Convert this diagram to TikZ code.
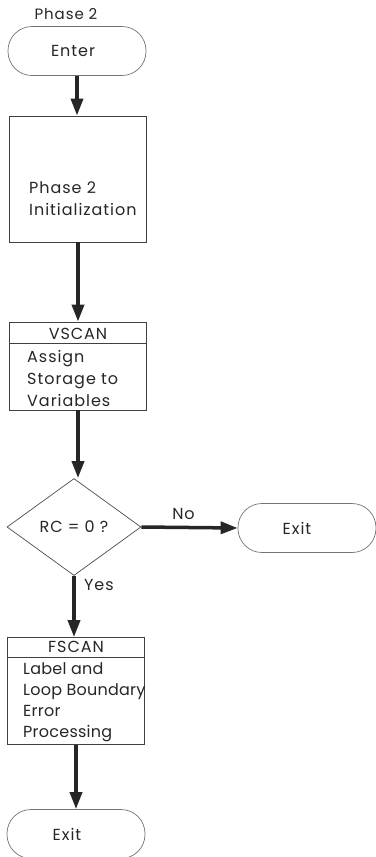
\documentclass[tikz,border=0pt]{standalone}
\usepackage{fontspec}
\setmainfont{Poppins}[LetterSpace=6]
\usetikzlibrary{arrows.meta,shapes.geometric}
\begin{document}
\begin{tikzpicture}[x=1pt,y=-1pt,
  every node/.style={font=\fontsize{16}{22}\selectfont, text=black!85},
  term/.style={draw=black!55, line width=0.7pt, rounded corners=24pt, minimum width=138pt, minimum height=49pt, inner sep=0pt},
  box/.style={draw=black!75, line width=0.8pt, minimum width=137pt, inner sep=0pt},
  dec/.style={diamond, draw=black!70, line width=0.7pt, minimum width=134pt, minimum height=97pt, inner sep=0pt},
  txt/.style={anchor=west, inner sep=0pt, align=left},
  flow/.style={line width=3.5pt, -{Triangle[length=17pt,width=12pt]}, black!85}
]
\useasboundingbox (0,0) rectangle (375,857);
% Phase 2 label and Enter
\node[inner sep=0pt, font=\fontsize{15}{20}\selectfont] (ph) at (66,14) {Phase 2};
\node[term] (enter) at (77,51) {};
\node[inner sep=0pt] (enterT) at (73,51) {Enter};
% Initialization
\node[box, minimum height=126pt] (init) at (78,179) {};
\node[txt] (initT) at (29,199) {Phase 2\\Initialization};
% VSCAN
\node[box, minimum height=88pt] (vs) at (78,366) {};
\draw[black!75, line width=0.8pt] (vs.west |- 0,343) coordinate (vsl) -- (vs.east |- 0,343) coordinate (vsr);
\node[inner sep=0pt] (vsH) at (78,334) {VSCAN};
\node[txt] (vsT) at (27,378) {Assign\\Storage to\\Variables};
% Decision
\node[dec] (rc) at (74,527) {RC = 0 ?};
\node[term] (exit1) at (307,528) {};
\node[inner sep=0pt] (exit1T) at (297,528) {Exit};
% FSCAN
\node[box, minimum height=107pt] (fs) at (76,691) {};
\draw[black!75, line width=0.8pt] (fs.west |- 0,657) coordinate (fsl) -- (fs.east |- 0,657) coordinate (fsr);
\node[inner sep=0pt] (fsH) at (76,647) {FSCAN};
\node[txt, font=\fontsize{16}{21}\selectfont\addfontfeatures{LetterSpace=1.5}] (fsT) at (23,702) {Label and\\Loop Boundary\\Error\\Processing};
% Final exit
\node[term] (exit2) at (76,834) {};
\node[inner sep=0pt] (exit2T) at (67,834) {Exit};
% Connectors
\draw[flow] (enter.south) -- (enter.south |- init.north);
\draw[flow] (init.south) -- (vs.north);
\draw[flow] (vs.south) -- (rc.north -| vs.south);
\draw[flow] (rc.east) -- node[above, inner sep=0pt, yshift=6pt, xshift=-6pt] (no) {No} (exit1.west);
\draw[flow] (rc.south) -- (rc.south |- fs.north);
\node[anchor=west, inner sep=0pt] (yes) at (84,585) {Yes};
\draw[flow] (fs.south) -- (exit2.north);
\end{tikzpicture}
\end{document}
